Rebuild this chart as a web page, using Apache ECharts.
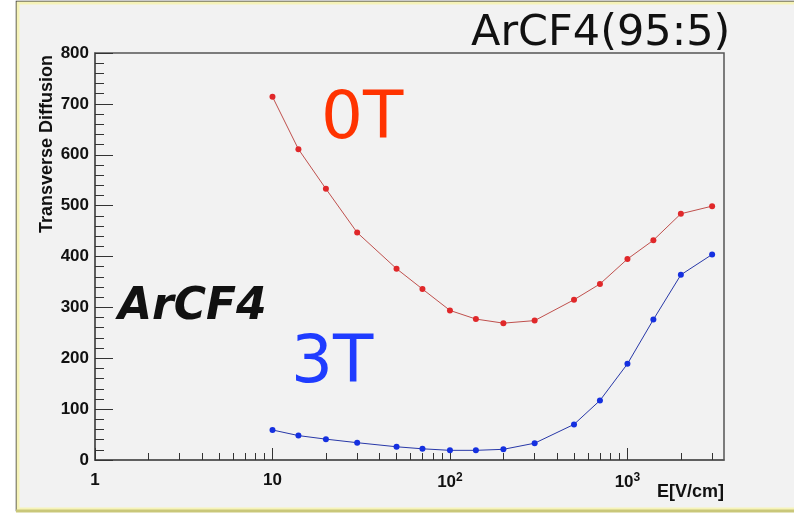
<!DOCTYPE html>
<html>
<head>
<meta charset="utf-8">
<style>
  html, body { margin: 0; padding: 0; background: #fff; }
  #chart { width: 794px; height: 513px; }
</style>
<script src="https://cdn.jsdelivr.net/npm/echarts@6/dist/echarts.min.js"></script>
</head>
<body>
<div id="chart"></div>
<script>
// E field values [V/cm]
var fieldValues = [10, 14, 20, 30, 50, 70, 100, 140, 200, 300, 500, 700, 1000, 1400, 2000, 3000]
// transverse diffusion, B = 0T
var diff0T = [714, 611, 533, 447, 376, 336, 294, 277, 269, 274, 315, 346, 395, 432, 484, 499]
// transverse diffusion, B = 3T
var diff3T = [59, 48, 41, 34, 26, 22, 19, 19, 21, 33, 70, 117, 189, 276, 364, 404]
var xMajorTicks = [1, 10, 100, 1000]
var xMinorTicks = [2, 3, 4, 5, 6, 7, 8, 9, 20, 30, 40, 50, 60, 70, 80, 90,
  200, 300, 400, 500, 600, 700, 800, 900, 2000, 3000]

var chart = echarts.init(document.getElementById('chart'))

function pairs(ys) {
  return fieldValues.map(function(x, i) { return [x, ys[i]] })
}

var axisFont = {
  fontFamily: 'Liberation Sans, Arial, sans-serif',
  fontWeight: 'bold',
  fontSize: 17,
  color: '#111'
}

chart.setOption({
  animation: false,
  backgroundColor: '#ffffff',
  graphic: [
    // outer pad frame
    {
      type: 'rect', z: -10, silent: true,
      shape: { x: 16.5, y: 1.5, width: 800, height: 509 },
      style: { fill: '#f2f2f2', stroke: '#333', lineWidth: 1.5 }
    },
    {
      type: 'rect', z: -9, silent: true,
      shape: { x: 18, y: 3, width: 800, height: 506 },
      style: { fill: 'none', stroke: '#f6f3b8', lineWidth: 3 }
    },
    {
      type: 'line', z: -8, silent: true,
      shape: { x1: 16, y1: 511, x2: 794, y2: 511 },
      style: { stroke: '#c9c77a', lineWidth: 3 }
    },
    // titles and annotations
    {
      type: 'text', left: 471, top: 12,
      style: { text: 'ArCF4(95:5)', fontFamily: 'DejaVu Sans', fontSize: 43, fill: '#111' }
    },
    {
      type: 'text', left: 321, top: 88,
      style: { text: '0T', fontFamily: 'DejaVu Sans', fontSize: 66, fill: '#ff3300' }
    },
    {
      type: 'text', left: 291, top: 332,
      style: { text: '3T', fontFamily: 'DejaVu Sans', fontSize: 66, fill: '#1f3cff' }
    },
    {
      type: 'text', left: 118, top: 286,
      style: { text: 'ArCF4', fontFamily: 'DejaVu Sans', fontStyle: 'italic', fontWeight: 'bold', fontSize: 44, fill: '#111' }
    },
    {
      type: 'text', x: 47, y: 55, rotation: Math.PI / 2,
      style: {
        text: 'Transverse Diffusion', align: 'right', verticalAlign: 'middle',
        fontFamily: 'Liberation Sans, Arial, sans-serif', fontWeight: 'bold', fontSize: 18, fill: '#111'
      }
    },
    {
      type: 'text', x: 724, y: 492,
      style: {
        text: 'E[V/cm]', align: 'right', verticalAlign: 'middle',
        fontFamily: 'Liberation Sans, Arial, sans-serif', fontWeight: 'bold', fontSize: 18, fill: '#111'
      }
    }
  ],
  grid: {
    left: 95,
    top: 53,
    right: 70,
    bottom: 53,
    show: true,
    backgroundColor: 'transparent',
    borderColor: '#555',
    borderWidth: 1.5
  },
  xAxis: [{
    type: 'log',
    logBase: 10,
    min: 1,
    max: 3500,
    position: 'bottom',
    axisLine: { lineStyle: { color: '#555', width: 1.5 } },
    axisTick: { inside: true, length: 12, customValues: xMajorTicks, lineStyle: { color: '#333' } },
    axisLabel: Object.assign({
      margin: 12,
      customValues: xMajorTicks,
      formatter: function(value) {
        var p = Math.round(Math.log10(value))
        if (p < 2) return String(value)
        return '{b|10}{s|' + p + '}'
      },
      rich: {
        b: { fontFamily: 'Liberation Sans, Arial, sans-serif', fontWeight: 'bold', fontSize: 17, color: '#111' },
        s: { fontFamily: 'Liberation Sans, Arial, sans-serif', fontWeight: 'bold', fontSize: 12, color: '#111', verticalAlign: 'top', padding: [0, 0, 8, 0] }
      }
    }, axisFont),
    splitLine: { show: false }
  }, {
    type: 'log',
    logBase: 10,
    min: 1,
    max: 3500,
    position: 'bottom',
    axisLine: { show: false },
    axisTick: { inside: true, length: 7, customValues: xMinorTicks, lineStyle: { color: '#333' } },
    axisLabel: { show: false },
    splitLine: { show: false }
  }],
  yAxis: {
    type: 'value',
    min: 0,
    max: 800,
    interval: 100,
    axisLine: { show: true, lineStyle: { color: '#555', width: 1.5 } },
    axisTick: { show: true, inside: true, length: 18, lineStyle: { color: '#333' } },
    minorTick: { show: true, splitNumber: 5, length: 9, lineStyle: { color: '#333' } },
    axisLabel: Object.assign({ margin: 6 }, axisFont),
    splitLine: { show: false }
  },
  series: [{
    name: '0T',
    type: 'line',
    data: pairs(diff0T),
    symbol: 'circle',
    symbolSize: 6,
    lineStyle: { color: '#c0504d', width: 1 },
    itemStyle: { color: '#e0282a' }
  }, {
    name: '3T',
    type: 'line',
    data: pairs(diff3T),
    symbol: 'circle',
    symbolSize: 6,
    lineStyle: { color: '#2838a8', width: 1 },
    itemStyle: { color: '#1530e0' }
  }]
})
</script>
</body>
</html>
